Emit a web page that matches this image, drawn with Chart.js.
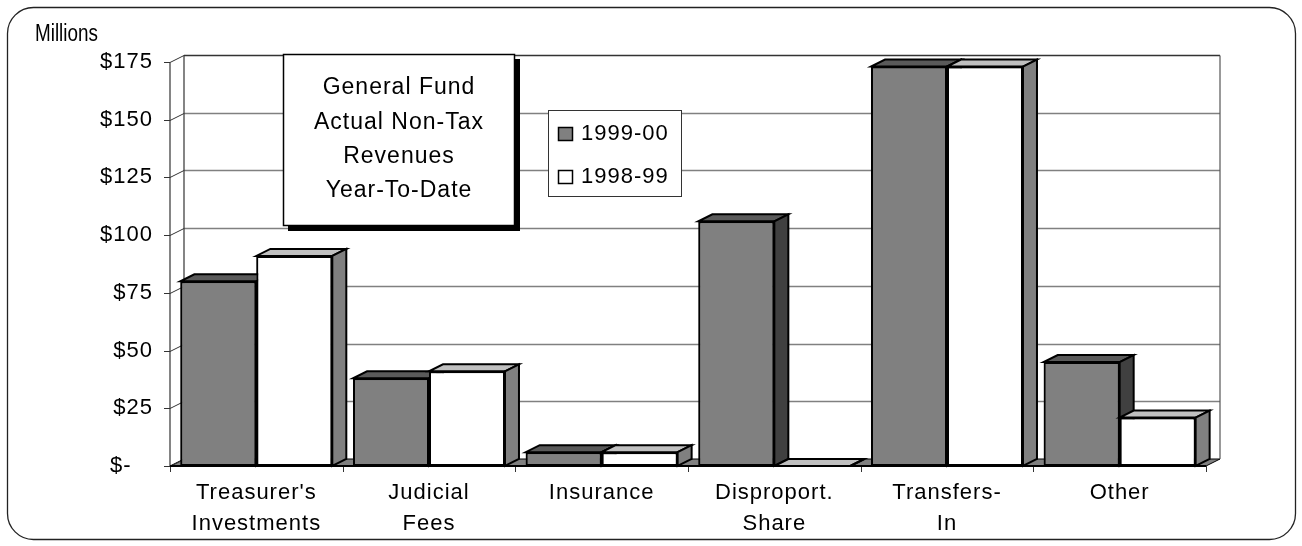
<!DOCTYPE html>
<html><head><meta charset="utf-8">
<script src="https://cdn.jsdelivr.net/npm/chart.js@4"></script>
<style>html,body{margin:0;padding:0;background:#fff}canvas{display:block}</style>
</head><body>
<canvas id="c" width="1302" height="546"></canvas>
<script>
const categories = [["Treasurer's","Investments"],["Judicial","Fees"],["Insurance"],["Disproport.","Share"],["Transfers-","In"],["Other"]];
const seriesNames = ["1999-00","1998-99"];
const values9900 = [80, 38, 6, 106, 173, 45];
const values9899 = [91, 41, 6, 0, 173, 21];
const yTicks = [0,25,50,75,100,125,150,175];
const titleLines = ["General Fund","Actual Non-Tax","Revenues","Year-To-Date"];
const unitLabel = "Millions";

const FONT = "'Liberation Sans', Arial, sans-serif";
const DX = 14, DY = 7;
const frontColors = ['#808080','#ffffff'];
const topColors = ['#5a5a5a','#c0c0c0'];
const sideColors = ['#404040','#808080'];

function poly(ctx, pts, fill, stroke, lw){
  ctx.beginPath();
  ctx.moveTo(pts[0][0], pts[0][1]);
  for (let i=1;i<pts.length;i++) ctx.lineTo(pts[i][0], pts[i][1]);
  ctx.closePath();
  if (fill){ ctx.fillStyle = fill; ctx.fill(); }
  if (stroke){ ctx.strokeStyle = stroke; ctx.lineWidth = lw||1; ctx.lineJoin='miter'; ctx.stroke(); }
}
function line(ctx, x1,y1,x2,y2, color, lw){
  ctx.beginPath(); ctx.moveTo(x1,y1); ctx.lineTo(x2,y2);
  ctx.strokeStyle=color; ctx.lineWidth=lw||1; ctx.stroke();
}

const deco = {
  id:'deco',
  beforeDraw(chart){
    const ctx = chart.ctx;
    ctx.letterSpacing = '1px';
    ctx.save();
    ctx.fillStyle='#fff'; ctx.fillRect(0,0,chart.width,chart.height);
    ctx.beginPath();
    ctx.roundRect(7.5, 7.5, 1288, 532, 26);
    ctx.strokeStyle='#222'; ctx.lineWidth=1.3; ctx.stroke();
    ctx.letterSpacing='0px';
    ctx.translate(35, 35); ctx.scale(0.82,1);
    ctx.font = `23px ${FONT}`; ctx.fillStyle='#000'; ctx.textBaseline='middle'; ctx.textAlign='left';
    ctx.fillText(unitLabel, 0, 0);
    ctx.restore();
    ctx.letterSpacing = '1px';
  },
  beforeDatasetsDraw(chart){
    const {ctx, chartArea:a, scales} = chart;
    const y = scales.y, L=a.left, R=a.right, B=a.bottom;
    ctx.save();
    poly(ctx, [[L,B],[R,B],[R+DX,B-DY],[L+DX,B-DY]], '#808080', '#000', 1);
    y.ticks.forEach(t=>{
      const py = Math.round(y.getPixelForValue(t.value)) + 0.5;
      if (t.value > 0 && t.value < 175) line(ctx, L+DX, py-DY, R+DX, py-DY, '#808080', 1.5);
      line(ctx, L, py, L+DX, py-DY, '#333', 1);
      line(ctx, L-6, py, L, py, '#333', 1);
    });
    const topY = Math.round(y.getPixelForValue(175)) + 0.5;
    line(ctx, L+DX, topY-DY, R+DX, topY-DY, '#333', 1.5);
    line(ctx, L+DX, topY-DY, L+DX, B-DY, '#333', 1.2);
    line(ctx, R+DX, topY-DY, R+DX, B-DY, '#555', 1.2);
    line(ctx, L, topY, L, B, '#333', 1.2);
    const n = categories.length, w = (R-L)/n;
    for (let k=0;k<=n;k++){
      const xb = Math.round(L + k*w)+0.5;
      line(ctx, xb, B, xb, B+6, '#333', 1);
    }
    line(ctx, L, B, R, B, '#000', 2);
    ctx.restore();
  },
  afterDatasetsDraw(chart){
    const ctx = chart.ctx;
    const metas = [chart.getDatasetMeta(0), chart.getDatasetMeta(1)];
    ctx.save();
    for (let c=0;c<categories.length;c++){
      metas.forEach((meta,i)=>{
        const bar = meta.data[c];
        bar.draw(ctx, chart.chartArea);
        const p = bar.getProps(['x','y','base','width'], true);
        const l = p.x - p.width/2, r = p.x + p.width/2, t = p.y, b = p.base;
        poly(ctx, [[l,t],[r,t],[r+DX,t-DY],[l+DX,t-DY]], topColors[i], '#000', 2);
        poly(ctx, [[r,t],[r+DX,t-DY],[r+DX,b-DY],[r,b]], sideColors[i], '#000', 2);
      });
    }
    ctx.restore();
  },
  afterDraw(chart){
    const ctx = chart.ctx;
    ctx.save();
    ctx.fillStyle='#000'; ctx.fillRect(288, 59, 232, 172);
    ctx.fillStyle='#fff'; ctx.fillRect(283, 54, 232, 172);
    ctx.strokeStyle='#000'; ctx.lineWidth=1.5; ctx.strokeRect(283.5, 54.5, 231, 171);
    ctx.font = `23px ${FONT}`; ctx.fillStyle='#000'; ctx.textAlign='center'; ctx.textBaseline='middle';
    titleLines.forEach((s,k)=> ctx.fillText(s, 399, 88 + k*34.3));
    ctx.fillStyle='#fff'; ctx.fillRect(548, 110, 134, 87);
    ctx.strokeStyle='#333'; ctx.lineWidth=1; ctx.strokeRect(548.5, 110.5, 133, 86);
    ctx.font = `22px ${FONT}`; ctx.textAlign='left';
    seriesNames.forEach((s,k)=>{
      const cy = 134 + k*43;
      ctx.fillStyle = frontColors[k]; ctx.fillRect(558, cy-7, 15, 14);
      ctx.strokeStyle='#000'; ctx.lineWidth=1.5; ctx.strokeRect(558.5, cy-6.5, 14, 13);
      ctx.fillStyle='#000'; ctx.fillText(s, 581, cy);
    });
    ctx.restore();
  }
};

new Chart(document.getElementById('c'), {
  type:'bar',
  data:{
    labels: categories,
    datasets:[
      {label: seriesNames[0], data: values9900, backgroundColor: frontColors[0], borderColor:'#000', borderWidth:2, borderSkipped:false},
      {label: seriesNames[1], data: values9899, backgroundColor: frontColors[1], borderColor:'#000', borderWidth:2, borderSkipped:false}
    ]
  },
  options:{
    responsive:false, animation:false, devicePixelRatio:1,
    layout:{padding:{left:0, top:62, right:96, bottom:0}},
    datasets:{bar:{categoryPercentage:0.88, barPercentage:1.0}},
    plugins:{legend:{display:false}, tooltip:{enabled:false}, title:{display:false}},
    scales:{
      x:{
        grid:{display:false, drawTicks:false}, border:{display:false},
        ticks:{autoSkip:false, maxRotation:0, minRotation:0, padding:12, color:'#000',
               font:{family:FONT, size:22, lineHeight:1.4}},
        afterFit(s){ s.height = 80; }
      },
      y:{
        min:0, max:175,
        grid:{display:false, drawTicks:false}, border:{display:false},
        afterBuildTicks(s){ s.ticks = yTicks.map(v=>({value:v})); },
        ticks:{padding:17, color:'#000', font:{family:FONT, size:22},
               callback:(v)=> v===0 ? '$-   ' : '$'+v},
        afterFit(s){ s.width = 170; }
      }
    }
  },
  plugins:[deco]
});
</script>
</body></html>
